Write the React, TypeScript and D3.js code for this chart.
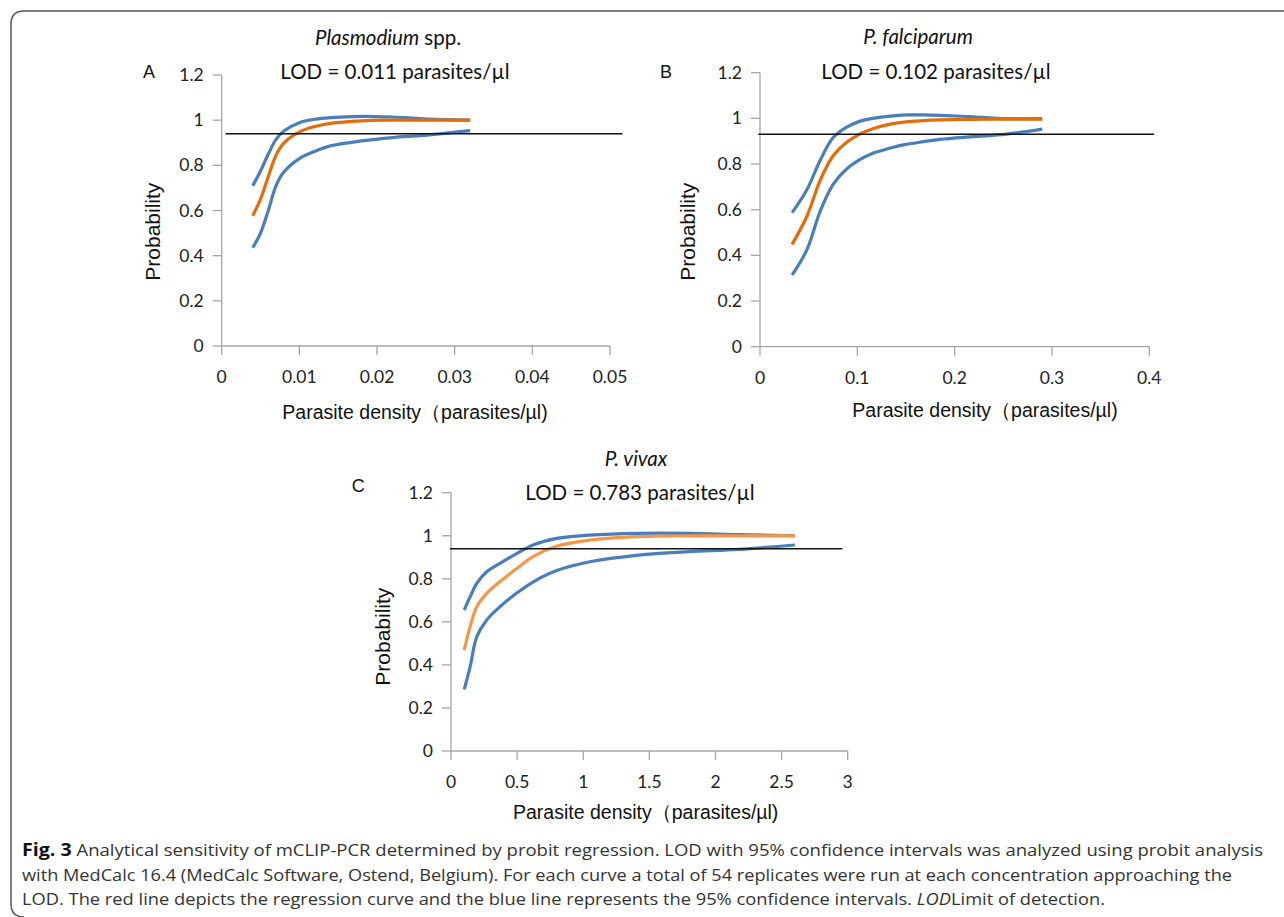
import React from "react";
import * as d3 from "d3";

// ---------- DATA ----------
const panelLetters = ["A", "B", "C"];
const panelTitles = ["Plasmodium", "P. falciparum", "P. vivax"];
const lodLabels = ["LOD = 0.011 parasites/µl", "LOD = 0.102 parasites/µl", "LOD = 0.783 parasites/µl"];
const yTicks = [0, 0.2, 0.4, 0.6, 0.8, 1, 1.2];
const yTickLabels = ["0", "0.2", "0.4", "0.6", "0.8", "1", "1.2"];
const xTicksA = [0, 0.01, 0.02, 0.03, 0.04, 0.05];
const xTickLabelsA = ["0", "0.01", "0.02", "0.03", "0.04", "0.05"];
const xTicksB = [0, 0.1, 0.2, 0.3, 0.4];
const xTickLabelsB = ["0", "0.1", "0.2", "0.3", "0.4"];
const xTicksC = [0, 0.5, 1, 1.5, 2, 2.5, 3];
const xTickLabelsC = ["0", "0.5", "1", "1.5", "2", "2.5", "3"];

const densityA = [0.004, 0.005, 0.006, 0.007, 0.008, 0.01, 0.012, 0.014, 0.018, 0.022, 0.026, 0.032];
const upperA = [0.71, 0.775, 0.85, 0.915, 0.952, 0.989, 1.004, 1.011, 1.017, 1.014, 1.006, 1.0];
const fitA = [0.577, 0.65, 0.75, 0.845, 0.898, 0.948, 0.972, 0.986, 0.997, 1.0, 1.0, 1.0];
const lowerA = [0.435, 0.5, 0.6, 0.71, 0.77, 0.83, 0.862, 0.886, 0.908, 0.923, 0.933, 0.954];

const densityB = [0.033, 0.048, 0.062, 0.075, 0.089, 0.103, 0.116, 0.134, 0.15, 0.168, 0.185, 0.219, 0.253, 0.29];
const upperB = [0.587, 0.686, 0.818, 0.915, 0.962, 0.988, 1.0, 1.01, 1.015, 1.015, 1.013, 1.007, 0.999, 0.999];
const fitB = [0.448, 0.569, 0.73, 0.835, 0.895, 0.932, 0.955, 0.975, 0.985, 0.99, 0.993, 0.996, 0.997, 0.997];
const lowerB = [0.314, 0.423, 0.595, 0.71, 0.778, 0.82, 0.847, 0.87, 0.886, 0.898, 0.908, 0.92, 0.931, 0.953];

const densityC = [0.1, 0.145, 0.195, 0.27, 0.37, 0.5, 0.62, 0.8, 1.05, 1.42, 1.8, 2.18, 2.6];
const upperC = [0.655, 0.717, 0.779, 0.833, 0.872, 0.918, 0.957, 0.988, 1.003, 1.011, 1.011, 1.005, 1.0];
const fitC = [0.469, 0.578, 0.67, 0.732, 0.787, 0.849, 0.903, 0.952, 0.98, 0.996, 0.999, 0.999, 0.999];
const lowerC = [0.286, 0.392, 0.531, 0.609, 0.67, 0.735, 0.785, 0.838, 0.879, 0.91, 0.926, 0.937, 0.957];

const refLevel = [0.94, 0.93, 0.94];
const refStart = [0.0005, -0.0017, -0.008];
const refEnd = [0.0516, 0.405, 2.96];

const captionLines = [
  "  Analytical sensitivity of mCLIP-PCR determined by probit regression. LOD with 95% confidence intervals was analyzed using probit analysis",
  "with MedCalc 16.4 (MedCalc Software, Ostend, Belgium). For each curve a total of 54 replicates were run at each concentration approaching the",
  "LOD. The red line depicts the regression curve and the blue line represents the 95% confidence intervals. ",
];

// ---------- STYLE / LAYOUT ----------
const BLUE = "#4a7ebb";
const ORANGE_DARK = "#e46c0a";
const ORANGE_LIGHT = "#f79646";
const AXIS = "#a6a6a6";
const TICK_FONT = "Lato, 'Open Sans', sans-serif";
const ARIAL = "'Liberation Sans', Arial, sans-serif";

type Layout = {
  x0: number; x1: number; xMax: number; y0: number; y1: number;
  letterX: number; letterY: number; titleX: number; titleY: number; lodX: number; lodY: number;
  probX: number; probY: number; xtX: number; xtY: number;
};

const layouts: Layout[] = [
  { x0: 221.7, x1: 610, xMax: 0.05, y0: 346, y1: 75, letterX: 149, letterY: 72, titleX: 388, titleY: 38, lodX: 395, lodY: 71.7, probX: 153, probY: 231.7, xtX: 415, xtY: 411.7 },
  { x0: 760, x1: 1149.3, xMax: 0.4, y0: 346.7, y1: 72.7, letterX: 666, letterY: 72, titleX: 918, titleY: 37, lodX: 936, lodY: 71.7, probX: 688, probY: 231.7, xtX: 985, xtY: 410 },
  { x0: 451, x1: 847.7, xMax: 3, y0: 751, y1: 492.7, letterX: 358.3, letterY: 485.7, titleX: 636, titleY: 459, lodX: 640, lodY: 492.7, probX: 382.7, probY: 636.7, xtX: 645.7, xtY: 811.7 },
];

const panelData = [
  { xs: densityA, up: upperA, fit: fitA, lo: lowerA, ticks: xTicksA, tickLabels: xTickLabelsA, orange: ORANGE_DARK },
  { xs: densityB, up: upperB, fit: fitB, lo: lowerB, ticks: xTicksB, tickLabels: xTickLabelsB, orange: ORANGE_DARK },
  { xs: densityC, up: upperC, fit: fitC, lo: lowerC, ticks: xTicksC, tickLabels: xTickLabelsC, orange: ORANGE_LIGHT },
];

function Panel({ i }: { i: number }) {
  const L = layouts[i];
  const D = panelData[i];
  const x = d3.scaleLinear().domain([0, L.xMax]).range([L.x0, L.x1]);
  const y = d3.scaleLinear().domain([0, 1.2]).range([L.y0, L.y1]);
  const line = d3
    .line<[number, number]>()
    .x((d) => x(d[0]))
    .y((d) => y(d[1]))
    .curve(d3.curveCatmullRom.alpha(0.5));
  const mk = (vals: number[]) => line(D.xs.map((v, k) => [v, vals[k]] as [number, number])) || "";
  const tickFs = 17.5;
  return (
    <g>
      {/* axes */}
      <line x1={x(0)} x2={x(0)} y1={y(0)} y2={y(1.2)} stroke={AXIS} strokeWidth={1.3} />
      <line x1={x(0)} x2={x(L.xMax)} y1={y(0)} y2={y(0)} stroke={AXIS} strokeWidth={1.3} />
      {yTicks.map((t, k) => (
        <g key={"y" + k}>
          <line x1={x(0) - 9} x2={x(0)} y1={y(t)} y2={y(t)} stroke={AXIS} strokeWidth={1.3} />
          <text x={x(0) - 18} y={y(t)} dy="0.35em" textAnchor="end" fontFamily={TICK_FONT} fontSize={tickFs} fill="#222">
            {yTickLabels[k]}
          </text>
        </g>
      ))}
      {D.ticks.map((t, k) => (
        <g key={"x" + k}>
          <line x1={x(t)} x2={x(t)} y1={y(0)} y2={y(0) + 9} stroke={AXIS} strokeWidth={1.3} />
          <text x={x(t)} y={y(0) + 31} dy="0.35em" textAnchor="middle" fontFamily={TICK_FONT} fontSize={tickFs} fill="#222">
            {D.tickLabels[k]}
          </text>
        </g>
      ))}
      {/* curves */}
      <path d={mk(D.lo)} fill="none" stroke={BLUE} strokeWidth={3.2} />
      <path d={mk(D.up)} fill="none" stroke={BLUE} strokeWidth={3.2} />
      <path d={mk(D.fit)} fill="none" stroke={D.orange} strokeWidth={3.2} />
      {/* reference line */}
      <line x1={x(refStart[i])} x2={x(refEnd[i])} y1={y(refLevel[i])} y2={y(refLevel[i])} stroke="#111" strokeWidth={1.5} />
      {/* labels */}
      <text x={L.letterX} y={L.letterY} dy="0.35em" textAnchor="middle" fontFamily={ARIAL} fontSize={18} fill="#111">
        {panelLetters[i]}
      </text>
      <text x={L.titleX} y={L.titleY} dy="0.35em" textAnchor="middle" fontFamily={TICK_FONT} fontSize={20.5} fill="#111">
        {i === 0 ? (
          <>
            <tspan fontStyle="italic">{panelTitles[i]}</tspan>
            <tspan> spp.</tspan>
          </>
        ) : (
          <tspan fontStyle="italic">{panelTitles[i]}</tspan>
        )}
      </text>
      <text x={L.lodX} y={L.lodY} dy="0.35em" textAnchor="middle" fontFamily={TICK_FONT} fontSize={20.5} fill="#111">
        {lodLabels[i]}
      </text>
      <text
        transform={`translate(${L.probX},${L.probY}) rotate(-90)`}
        dy="0.35em"
        textAnchor="middle"
        fontFamily={ARIAL}
        fontSize={21}
        fill="#111"
      >
        Probability
      </text>
      <text x={L.xtX} y={L.xtY} dy="0.35em" textAnchor="middle" fontFamily={ARIAL} fontSize={19.5} fill="#111">
        Parasite density（parasites/µl)
      </text>
    </g>
  );
}

export default function App() {
  const capFont = "'Open Sans', 'Noto Sans', sans-serif";
  return (
    <svg
      width={1284}
      height={917}
      style={{ position: "absolute", left: 0, top: 0, background: "#fff" }}
    >
      <rect x={0} y={0} width={1284} height={917} fill="#fff" />
      <path d="M 1284 11 H 24 Q 11 11 11 24 V 904 Q 11 917 24 917" fill="none" stroke="#555" strokeWidth={1.5} />
      {[0, 1, 2].map((i) => (
        <Panel key={i} i={i} />
      ))}
      <text x={22} y={856} fontFamily={capFont} fontSize={16.5} fill="#333" textLength={1241} lengthAdjust="spacingAndGlyphs">
        <tspan fontWeight="bold" fill="#111" fontSize={17.5}>Fig. 3</tspan>
        <tspan>{captionLines[0]}</tspan>
      </text>
      <text x={22} y={881} fontFamily={capFont} fontSize={16.5} fill="#333" textLength={1210} lengthAdjust="spacingAndGlyphs">
        {captionLines[1]}
      </text>
      <text x={22} y={905} fontFamily={capFont} fontSize={16.5} fill="#333" textLength={1083} lengthAdjust="spacingAndGlyphs">
        <tspan>{captionLines[2]}</tspan>
        <tspan fontStyle="italic">LOD</tspan>
        <tspan>Limit of detection.</tspan>
      </text>
    </svg>
  );
}
